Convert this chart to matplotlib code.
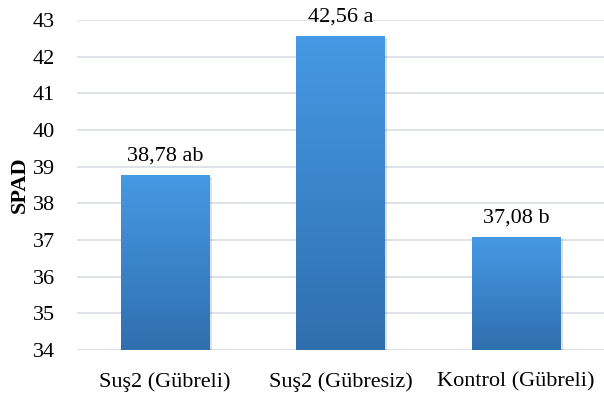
import numpy as np
import matplotlib.pyplot as plt
from matplotlib.colors import LinearSegmentedColormap

categories = ["Suş2 (Gübreli)", "Suş2 (Gübresiz)", "Kontrol (Gübreli)"]
values = [38.78, 42.56, 37.08]
letters = ["ab", "a", "b"]

plt.rcParams['font.family'] = ['Liberation Serif', 'DejaVu Serif']

fig = plt.figure(figsize=(6.04, 4.0), dpi=100)
ax = fig.add_axes([0.128, 0.125, 0.872, 0.825])

x = np.arange(len(categories))
ymin, ymax = 34, 43
width = 0.505

cmap = LinearSegmentedColormap.from_list("blu", ["#2f6fae", "#4699e4"])
grad = np.linspace(0, 1, 256).reshape(-1, 1)

for xi, v, lt in zip(x, values, letters):
    # soft shadow
    ax.bar(xi + 0.012, v - ymin, width=width, bottom=ymin - 0.06,
           color="#000000", alpha=0.12, zorder=2, lw=0)
    b = ax.bar(xi, v - ymin, width=width, bottom=ymin, color="none",
               lw=0, zorder=3)[0]
    im = ax.imshow(grad, cmap=cmap, origin="lower", aspect="auto",
                   extent=[xi - width / 2, xi + width / 2, ymin, v], zorder=3)
    im.set_clip_path(b)
    ax.text(xi, v + 0.25, "%s %s" % (f"{v:.2f}".replace(".", ","), lt),
            ha="center", va="bottom", fontsize=16)

ax.set_xlim(-0.5, len(categories) - 0.5)
ax.set_ylim(ymin, ymax)
ax.set_yticks(range(ymin, ymax + 1))
ax.set_xticks(x)
ax.set_xticklabels(categories)
ax.tick_params(axis="both", length=0, labelsize=16)
ax.tick_params(axis="y", pad=16)
ax.tick_params(axis="x", pad=16)
ax.yaxis.grid(True, color="#d9dde4", lw=1.2, zorder=0)
ax.set_axisbelow(True)
for s in ax.spines.values():
    s.set_visible(False)
ax.axhline(ymin, color="#d9dde4", lw=1.2, zorder=1)
ax.set_ylabel("SPAD", fontsize=16, fontweight="bold", labelpad=2)

fig.savefig("out.png", dpi=100)
